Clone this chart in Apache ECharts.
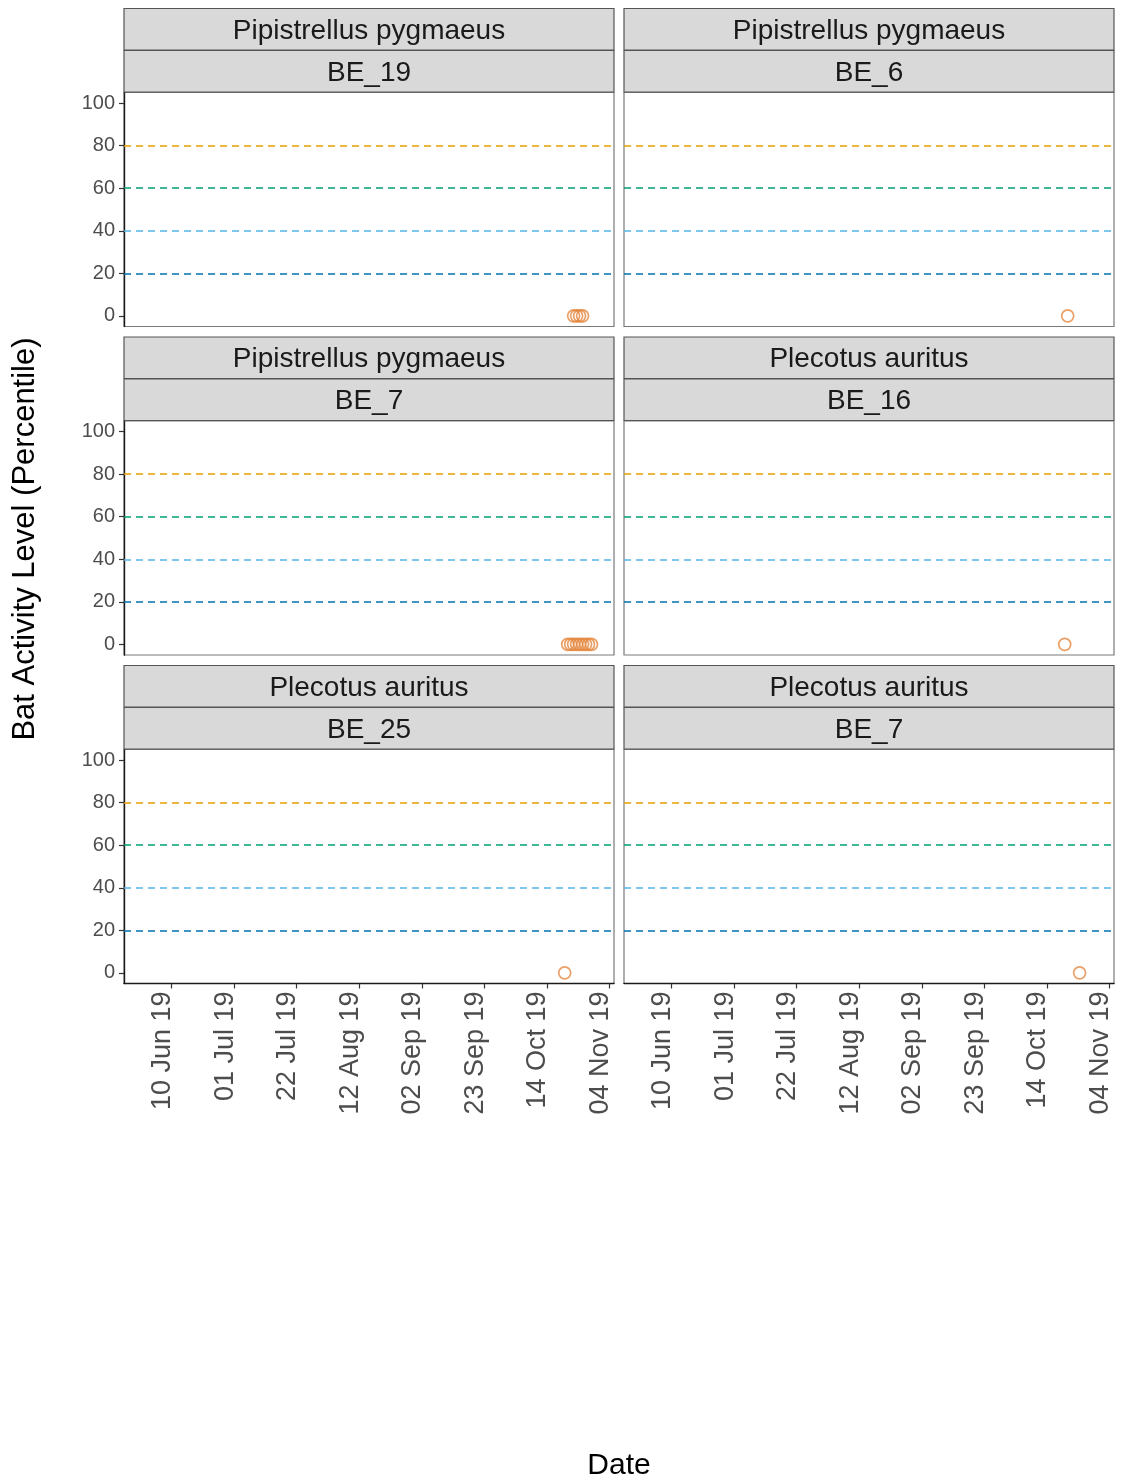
<!DOCTYPE html>
<html>
<head>
<meta charset="utf-8">
<script src="https://cdn.jsdelivr.net/npm/echarts@6/dist/echarts.min.js"></script>
<style>
html,body{margin:0;padding:0;background:#fff;}
#chart{width:1126px;height:1484px;}
</style>
</head>
<body>
<div id="chart"></div>
<script>
// ---- Data ----
const speciesLabels = ['Pipistrellus pygmaeus','Pipistrellus pygmaeus','Pipistrellus pygmaeus','Plecotus auritus','Plecotus auritus','Plecotus auritus'];
const siteLabels = ['BE_19','BE_6','BE_7','BE_16','BE_25','BE_7'];
const pointDates = [
  ['2019-10-23','2019-10-24','2019-10-25','2019-10-26'],
  ['2019-10-21'],
  ['2019-10-21','2019-10-22','2019-10-23','2019-10-24','2019-10-25','2019-10-26','2019-10-27','2019-10-28','2019-10-29'],
  ['2019-10-20'],
  ['2019-10-20'],
  ['2019-10-25']
];
const pointValues = [
  [0,0,0,0],
  [0],
  [0,0,0,0,0,0,0,0,0],
  [0],
  [0],
  [0]
];
const tickDates = ['2019-06-10','2019-07-01','2019-07-22','2019-08-12','2019-09-02','2019-09-23','2019-10-14','2019-11-04'];
const yTicks = [0,20,40,60,80,100];
const thresholds = [20,40,60,80];
const thresholdColors = ['#0072B2','#56B4E9','#009E73','#E69F00'];

// ---- Helpers ----
const DAY = 86400000;
function toMs(s){ const p = s.split('-').map(Number); return Date.UTC(p[0], p[1]-1, p[2]); }
const MON = ['Jan','Feb','Mar','Apr','May','Jun','Jul','Aug','Sep','Oct','Nov','Dec'];
function fmt(v){
  const d = new Date(v);
  const dd = String(d.getUTCDate()).padStart(2,'0');
  const yy = String(d.getUTCFullYear()).slice(2);
  return dd + ' ' + MON[d.getUTCMonth()] + ' ' + yy;
}
const tickMs = tickDates.map(toMs);
const xMin = toMs('2019-06-10') - 16.0 * DAY;
const xMax = toMs('2019-11-04') + 1.55 * DAY;

// ---- Layout ----
const colLeft = [124, 624];
const panelW = 490;
const rowTop = [92.5, 421, 749.5];
const panelH = 234;
const stripH = 41.5;
const FONT = 'Liberation Sans, Arial, sans-serif';

const grids = [], xAxes = [], yAxes = [], series = [], graphics = [];
for (let i = 0; i < 6; i++) {
  const col = i % 2, row = Math.floor(i / 2);
  const isBottom = row === 2, isLeft = col === 0;
  grids.push({left: colLeft[col], top: rowTop[row], width: panelW, height: panelH,
    show: true, borderColor: '#7a7a7a', borderWidth: 1.2, backgroundColor: '#fff', containLabel: false});
  xAxes.push({
    type: 'value', gridIndex: i, min: xMin, max: xMax,
    axisLine: {show: isBottom, onZero: false, lineStyle: {color: '#1a1a1a', width: 1.4}},
    axisTick: {show: isBottom, length: 5, customValues: tickMs, lineStyle: {color: '#333', width: 1.2}},
    axisLabel: {show: isBottom, customValues: tickMs, rotate: 90, margin: 8, formatter: fmt,
      color: '#4d4d4d', fontSize: 27, fontFamily: FONT, verticalAlign: 'bottom', lineHeight: 18},
    splitLine: {show: false}
  });
  yAxes.push({
    type: 'value', gridIndex: i, min: -5, max: 105,
    axisLine: {show: isLeft, onZero: false, lineStyle: {color: '#1a1a1a', width: 1.4}},
    axisTick: {show: isLeft, length: 5, customValues: yTicks, lineStyle: {color: '#333', width: 1.2}},
    axisLabel: {show: isLeft, customValues: yTicks, margin: 9, color: '#4d4d4d', fontSize: 20, fontFamily: FONT},
    splitLine: {show: false}
  });
  series.push({
    type: 'scatter', xAxisIndex: i, yAxisIndex: i,
    data: pointDates[i].map((d, k) => [toMs(d), pointValues[i][k]]),
    symbol: 'circle', symbolSize: 12,
    itemStyle: {color: 'rgba(0,0,0,0)', borderColor: '#E4873F', borderWidth: 1.7},
    z: 5,
    markLine: {
      silent: true, symbol: 'none', animation: false,
      label: {show: false},
      lineStyle: {type: [7, 5], width: 1.5},
      data: thresholds.map((v, k) => ({yAxis: v, lineStyle: {color: thresholdColors[k], type: [7,5], width: 1.5}}))
    }
  });
  // strips
  const sx = colLeft[col], sy1 = rowTop[row] - 2 * stripH - 1, sy2 = rowTop[row] - stripH - 0.5;
  [[sy1, speciesLabels[i]], [sy2, siteLabels[i]]].forEach(([y, txt]) => {
    graphics.push({type: 'rect', shape: {x: sx, y: y, width: panelW, height: stripH},
      style: {fill: '#d9d9d9', stroke: '#555', lineWidth: 1.2}, z: 10});
    graphics.push({type: 'text', x: sx + panelW / 2, y: y + stripH / 2 + 2,
      style: {text: txt, fill: '#1a1a1a', font: '28px ' + FONT, textAlign: 'center', textVerticalAlign: 'middle'}, z: 11});
  });
}
graphics.push({type: 'text', x: 25, y: 539, rotation: Math.PI / 2,
  style: {text: 'Bat Activity Level (Percentile)', fill: '#000', font: '31px ' + FONT, textAlign: 'center', textVerticalAlign: 'middle'}});
graphics.push({type: 'text', x: 619, y: 1466,
  style: {text: 'Date', fill: '#000', font: '30px ' + FONT, textAlign: 'center', textVerticalAlign: 'middle'}});

const chart = echarts.init(document.getElementById('chart'), null, {renderer: 'canvas'});
chart.setOption({
  animation: false,
  backgroundColor: '#fff',
  grid: grids, xAxis: xAxes, yAxis: yAxes, series: series,
  graphic: {elements: graphics}
});
</script>
</body>
</html>
